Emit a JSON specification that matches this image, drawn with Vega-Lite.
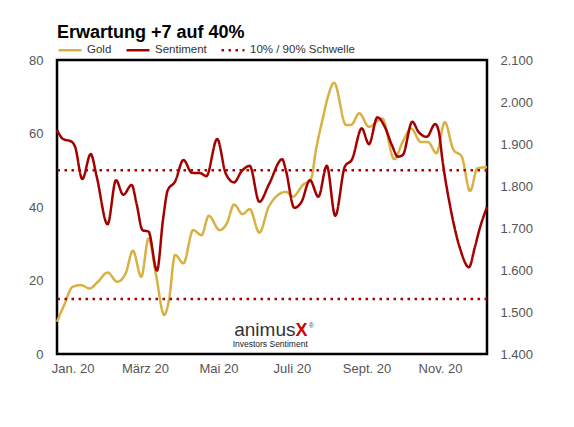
{
  "$schema": "https://vega.github.io/schema/vega-lite/v6.json",
  "autosize": "none",
  "padding": {"left": 57, "top": 60, "right": 87, "bottom": 73},
  "width": 430,
  "height": 294,
  "title": {
    "text": "Erwartung +7 auf 40%",
    "anchor": "start",
    "frame": "group",
    "fontSize": 18,
    "fontWeight": "bold",
    "color": "#000",
    "font": "Liberation Sans",
    "offset": -5
  },
  "config": {
    "font": "Liberation Sans",
    "view": {"stroke": "#000", "strokeWidth": 2.5},
    "axis": {
      "grid": false,
      "ticks": false,
      "domain": false,
      "labelFont": "Liberation Sans",
      "labelFontSize": 13,
      "labelColor": "#555",
      "title": null
    },
    "legend": {
      "orient": "none",
      "legendX": 0,
      "legendY": -23,
      "direction": "horizontal",
      "title": null,
      "symbolType": "stroke",
      "symbolSize": 529,
      "symbolStrokeWidth": 2.5,
      "labelFontSize": 11.5,
      "labelColor": "#333",
      "labelFont": "Liberation Sans",
      "labelOffset": 4,
      "columnPadding": 9
    }
  },
  "datasets": {
    "sentiment": [
      {"date": "2019-12-19", "series": "Sentiment", "value": 61},
      {"date": "2019-12-24", "series": "Sentiment", "value": 58.5},
      {"date": "2019-12-31", "series": "Sentiment", "value": 57.8},
      {"date": "2020-01-03", "series": "Sentiment", "value": 56.4},
      {"date": "2020-01-09", "series": "Sentiment", "value": 47.6},
      {"date": "2020-01-16", "series": "Sentiment", "value": 54.4},
      {"date": "2020-01-21", "series": "Sentiment", "value": 48.2},
      {"date": "2020-01-30", "series": "Sentiment", "value": 35.3},
      {"date": "2020-02-06", "series": "Sentiment", "value": 47.3},
      {"date": "2020-02-12", "series": "Sentiment", "value": 43.3},
      {"date": "2020-02-19", "series": "Sentiment", "value": 46},
      {"date": "2020-02-23", "series": "Sentiment", "value": 41},
      {"date": "2020-02-28", "series": "Sentiment", "value": 33.7},
      {"date": "2020-03-04", "series": "Sentiment", "value": 33.3},
      {"date": "2020-03-11", "series": "Sentiment", "value": 22.7},
      {"date": "2020-03-16", "series": "Sentiment", "value": 36.5},
      {"date": "2020-03-20", "series": "Sentiment", "value": 44.6},
      {"date": "2020-03-26", "series": "Sentiment", "value": 46.9},
      {"date": "2020-04-02", "series": "Sentiment", "value": 52.8},
      {"date": "2020-04-09", "series": "Sentiment", "value": 49.3},
      {"date": "2020-04-16", "series": "Sentiment", "value": 49.2},
      {"date": "2020-04-21", "series": "Sentiment", "value": 48.4},
      {"date": "2020-04-30", "series": "Sentiment", "value": 58.5},
      {"date": "2020-05-07", "series": "Sentiment", "value": 49.2},
      {"date": "2020-05-14", "series": "Sentiment", "value": 46.7},
      {"date": "2020-05-20", "series": "Sentiment", "value": 49.6},
      {"date": "2020-05-27", "series": "Sentiment", "value": 51.2},
      {"date": "2020-06-04", "series": "Sentiment", "value": 41.4},
      {"date": "2020-06-12", "series": "Sentiment", "value": 46.2},
      {"date": "2020-06-23", "series": "Sentiment", "value": 53},
      {"date": "2020-06-26", "series": "Sentiment", "value": 50},
      {"date": "2020-07-03", "series": "Sentiment", "value": 39.8},
      {"date": "2020-07-09", "series": "Sentiment", "value": 41.4},
      {"date": "2020-07-16", "series": "Sentiment", "value": 47.3},
      {"date": "2020-07-23", "series": "Sentiment", "value": 42.8},
      {"date": "2020-07-30", "series": "Sentiment", "value": 51.2},
      {"date": "2020-08-06", "series": "Sentiment", "value": 37.6},
      {"date": "2020-08-14", "series": "Sentiment", "value": 51},
      {"date": "2020-08-20", "series": "Sentiment", "value": 53},
      {"date": "2020-08-28", "series": "Sentiment", "value": 61.4},
      {"date": "2020-09-03", "series": "Sentiment", "value": 57.1},
      {"date": "2020-09-10", "series": "Sentiment", "value": 64.4},
      {"date": "2020-09-16", "series": "Sentiment", "value": 61.9},
      {"date": "2020-09-22", "series": "Sentiment", "value": 56.9},
      {"date": "2020-09-27", "series": "Sentiment", "value": 53.7},
      {"date": "2020-10-01", "series": "Sentiment", "value": 54.1},
      {"date": "2020-10-09", "series": "Sentiment", "value": 63.2},
      {"date": "2020-10-14", "series": "Sentiment", "value": 60.5},
      {"date": "2020-10-21", "series": "Sentiment", "value": 59.1},
      {"date": "2020-10-28", "series": "Sentiment", "value": 62.6},
      {"date": "2020-10-31", "series": "Sentiment", "value": 60.5},
      {"date": "2020-11-03", "series": "Sentiment", "value": 52.8},
      {"date": "2020-11-10", "series": "Sentiment", "value": 39.2},
      {"date": "2020-11-18", "series": "Sentiment", "value": 28.3},
      {"date": "2020-11-25", "series": "Sentiment", "value": 23.6},
      {"date": "2020-11-30", "series": "Sentiment", "value": 29.2},
      {"date": "2020-12-04", "series": "Sentiment", "value": 34.2},
      {"date": "2020-12-10", "series": "Sentiment", "value": 40}
    ],
    "gold": [
      {"date": "2019-12-19", "series": "Gold", "price": 1477},
      {"date": "2019-12-25", "series": "Gold", "price": 1517},
      {"date": "2020-01-01", "series": "Gold", "price": 1560},
      {"date": "2020-01-08", "series": "Gold", "price": 1564},
      {"date": "2020-01-15", "series": "Gold", "price": 1556},
      {"date": "2020-01-22", "series": "Gold", "price": 1572},
      {"date": "2020-01-30", "series": "Gold", "price": 1594},
      {"date": "2020-02-07", "series": "Gold", "price": 1572},
      {"date": "2020-02-14", "series": "Gold", "price": 1592},
      {"date": "2020-02-20", "series": "Gold", "price": 1646},
      {"date": "2020-02-27", "series": "Gold", "price": 1584},
      {"date": "2020-03-04", "series": "Gold", "price": 1675},
      {"date": "2020-03-10", "series": "Gold", "price": 1592},
      {"date": "2020-03-17", "series": "Gold", "price": 1493},
      {"date": "2020-03-21", "series": "Gold", "price": 1529},
      {"date": "2020-03-26", "series": "Gold", "price": 1636},
      {"date": "2020-04-02", "series": "Gold", "price": 1616},
      {"date": "2020-04-10", "series": "Gold", "price": 1695},
      {"date": "2020-04-17", "series": "Gold", "price": 1683},
      {"date": "2020-04-23", "series": "Gold", "price": 1729},
      {"date": "2020-05-02", "series": "Gold", "price": 1695},
      {"date": "2020-05-08", "series": "Gold", "price": 1711},
      {"date": "2020-05-14", "series": "Gold", "price": 1756},
      {"date": "2020-05-21", "series": "Gold", "price": 1733},
      {"date": "2020-05-27", "series": "Gold", "price": 1745},
      {"date": "2020-06-04", "series": "Gold", "price": 1689},
      {"date": "2020-06-12", "series": "Gold", "price": 1752},
      {"date": "2020-06-26", "series": "Gold", "price": 1786},
      {"date": "2020-07-02", "series": "Gold", "price": 1775},
      {"date": "2020-07-10", "series": "Gold", "price": 1802},
      {"date": "2020-07-17", "series": "Gold", "price": 1818},
      {"date": "2020-07-21", "series": "Gold", "price": 1886},
      {"date": "2020-07-27", "series": "Gold", "price": 1965},
      {"date": "2020-07-31", "series": "Gold", "price": 2013},
      {"date": "2020-08-05", "series": "Gold", "price": 2046},
      {"date": "2020-08-15", "series": "Gold", "price": 1945},
      {"date": "2020-08-19", "series": "Gold", "price": 1945},
      {"date": "2020-08-26", "series": "Gold", "price": 1973},
      {"date": "2020-09-03", "series": "Gold", "price": 1941},
      {"date": "2020-09-14", "series": "Gold", "price": 1961},
      {"date": "2020-09-24", "series": "Gold", "price": 1864},
      {"date": "2020-10-01", "series": "Gold", "price": 1905},
      {"date": "2020-10-08", "series": "Gold", "price": 1937},
      {"date": "2020-10-16", "series": "Gold", "price": 1905},
      {"date": "2020-10-22", "series": "Gold", "price": 1905},
      {"date": "2020-10-29", "series": "Gold", "price": 1878},
      {"date": "2020-11-05", "series": "Gold", "price": 1952},
      {"date": "2020-11-12", "series": "Gold", "price": 1887},
      {"date": "2020-11-19", "series": "Gold", "price": 1870},
      {"date": "2020-11-26", "series": "Gold", "price": 1788},
      {"date": "2020-12-02", "series": "Gold", "price": 1842},
      {"date": "2020-12-10", "series": "Gold", "price": 1845}
    ],
    "thresholds": [
      {"series": "10% / 90% Schwelle", "level": 50},
      {"series": "10% / 90% Schwelle", "level": 15}
    ]
  },
  "layer": [
    {
      "data": {"name": "gold"},
      "mark": {"type": "line", "strokeWidth": 2.5, "interpolate": "monotone"},
      "encoding": {
        "x": {
          "field": "date",
          "type": "temporal",
          "scale": {
            "type": "utc",
            "domain": [
              {"year": 2019, "month": 12, "date": 19, "utc": true},
              {"year": 2020, "month": 12, "date": 10, "utc": true}
            ]
          },
          "axis": {
            "values": [
              {"year": 2020, "month": 1, "date": 1, "utc": true},
              {"year": 2020, "month": 3, "date": 1, "utc": true},
              {"year": 2020, "month": 5, "date": 1, "utc": true},
              {"year": 2020, "month": 7, "date": 1, "utc": true},
              {"year": 2020, "month": 9, "date": 1, "utc": true},
              {"year": 2020, "month": 11, "date": 1, "utc": true}
            ],
            "labelExpr": "['Jan.','Feb.','März','Apr.','Mai','Juni','Juli','Aug.','Sept.','Okt.','Nov.','Dez.'][utcmonth(datum.value)] + ' 20'",
            "labelPadding": 8,
            "labelFlush": false,
            "labelOverlap": false
          }
        },
        "y": {
          "field": "price",
          "type": "quantitative",
          "scale": {"domain": [1400, 2100], "nice": false},
          "axis": {
            "orient": "right",
            "values": [1400, 1500, 1600, 1700, 1800, 1900, 2000, 2100],
            "labelExpr": "replace(format(datum.value, ','), ',', '.')",
            "labelPadding": 13
          }
        },
        "color": {
          "field": "series",
          "type": "nominal",
          "scale": {
            "domain": ["Gold", "Sentiment", "10% / 90% Schwelle"],
            "range": ["#d8b144", "#a50000", "#b00000"]
          }
        },
        "strokeDash": {
          "field": "series",
          "type": "nominal",
          "scale": {
            "domain": ["Gold", "Sentiment", "10% / 90% Schwelle"],
            "range": [[1, 0], [1, 0], [2.5, 4.5]]
          }
        }
      }
    },
    {
      "data": {"name": "sentiment"},
      "mark": {"type": "line", "strokeWidth": 2.5, "interpolate": "monotone"},
      "encoding": {
        "x": {"field": "date", "type": "temporal"},
        "y": {
          "field": "value",
          "type": "quantitative",
          "scale": {"domain": [0, 80], "nice": false},
          "axis": {
            "orient": "left",
            "values": [0, 20, 40, 60, 80],
            "labelPadding": 14
          }
        },
        "color": {"field": "series", "type": "nominal"},
        "strokeDash": {"field": "series", "type": "nominal"}
      }
    },
    {
      "data": {"name": "thresholds"},
      "mark": {"type": "rule", "strokeWidth": 2.5},
      "encoding": {
        "y": {"field": "level", "type": "quantitative", "scale": {"domain": [0, 80], "nice": false}, "axis": null},
        "color": {"field": "series", "type": "nominal"},
        "strokeDash": {"field": "series", "type": "nominal"}
      }
    },
    {
      "data": {"values": [{"label": "animus"}]},
      "mark": {"type": "text", "align": "right", "baseline": "alphabetic", "fontSize": 19, "color": "#333", "font": "Liberation Sans"},
      "encoding": {
        "x": {"datum": {"year": 2020, "month": 7, "date": 4, "utc": true}, "type": "temporal"},
        "y": {"datum": 4.8, "type": "quantitative", "scale": {"domain": [0, 80], "nice": false}, "axis": null},
        "text": {"field": "label", "type": "nominal"}
      }
    },
    {
      "data": {"values": [{"label": "X"}]},
      "mark": {"type": "text", "align": "left", "baseline": "alphabetic", "fontSize": 18, "fontWeight": "bold", "color": "#cc0000", "font": "Liberation Sans"},
      "encoding": {
        "x": {"datum": {"year": 2020, "month": 7, "date": 4, "utc": true}, "type": "temporal"},
        "y": {"datum": 4.8, "type": "quantitative", "scale": {"domain": [0, 80], "nice": false}, "axis": null},
        "text": {"field": "label", "type": "nominal"}
      }
    },
    {
      "data": {"values": [{"label": "®"}]},
      "mark": {"type": "text", "align": "left", "baseline": "alphabetic", "fontSize": 7, "color": "#555", "font": "Liberation Sans"},
      "encoding": {
        "x": {"datum": {"year": 2020, "month": 7, "date": 15, "utc": true}, "type": "temporal"},
        "y": {"datum": 7, "type": "quantitative", "scale": {"domain": [0, 80], "nice": false}, "axis": null},
        "text": {"field": "label", "type": "nominal"}
      }
    },
    {
      "data": {"values": [{"label": "Investors Sentiment"}]},
      "mark": {"type": "text", "align": "center", "baseline": "alphabetic", "fontSize": 8.5, "color": "#222", "font": "Liberation Sans"},
      "encoding": {
        "x": {"datum": {"year": 2020, "month": 6, "date": 13, "utc": true}, "type": "temporal"},
        "y": {"datum": 2.0, "type": "quantitative", "scale": {"domain": [0, 80], "nice": false}, "axis": null},
        "text": {"field": "label", "type": "nominal"}
      }
    }
  ],
  "resolve": {"scale": {"y": "independent"}}
}
